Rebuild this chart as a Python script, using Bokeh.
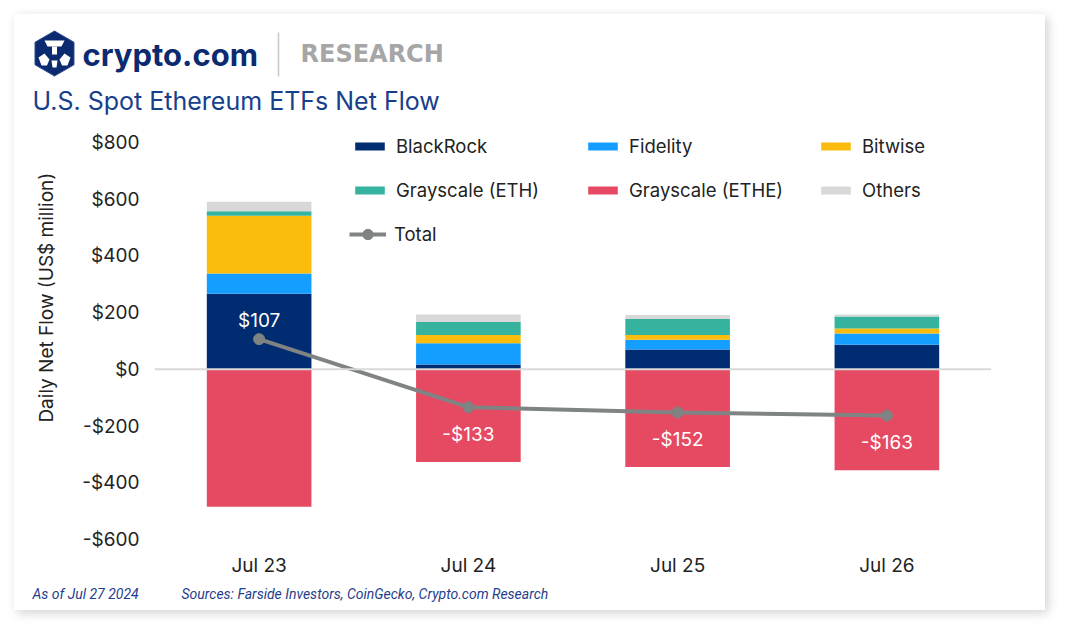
import math
from bokeh.plotting import figure
from bokeh.layouts import column, row
from bokeh.models import (FactorRange, Range1d, FixedTicker, Legend, LegendItem, Label,
                          Span, ColumnDataSource)
from bokeh.core.properties import value
from bokeh.embed import file_html
from bokeh.resources import INLINE

# ---------------- data ----------------
dates = ["Jul 23", "Jul 24", "Jul 25", "Jul 26"]
blackrock = [266.5, 17.4, 70.0, 87.2]
fidelity = [71.3, 74.5, 34.0, 39.0]
bitwise = [204.2, 29.6, 17.0, 18.0]
grayscale_eth = [15.2, 45.9, 57.0, 42.0]
others = [33.5, 26.2, 14.0, 7.0]
grayscale_ethe = [-484.1, -326.9, -344.0, -356.0]
total = [106.6, -133.3, -152.0, -162.8]
total_labels = ["$107", "-$133", "-$152", "-$163"]
y_ticks = [-600, -400, -200, 0, 200, 400, 600, 800]

# ---------------- styles ----------------
C_BLK = "#002D72"
C_FID = "#149EFF"
C_BIT = "#FBBC0E"
C_GETH = "#35B39E"
C_ETHE = "#E64A62"
C_OTH = "#D8D8D8"
C_TOT = "#808383"
NAVY = "#0B2A6F"
FONT = "Inter"
TXT = "#222222"

# page geometry (pixels, page coordinates)
CARD_L, CARD_T, CARD_R, CARD_B = 15, 15, 1046, 611
HEAD_B = 123          # bottom of header strip / top of plot frame
FOOT_T = 580          # top of footer strip
YLAB_R = 70           # right edge of y-label strip
FRAME_L, FRAME_R, FRAME_B = 155, 992, 540
TICK_TOP_Y = 143      # pixel row of the $800 tick
ROOT_ORIGIN = 1       # where the layout root lands on the page (measured)


def base(y, size):
    # empirical correction for where the alphabetic baseline lands
    return y - 0.36 * size


def blank_fig(x0, x1, y0, y1):
    f = figure(width=x1 - x0, height=y1 - y0, x_range=Range1d(x0, x1),
               y_range=Range1d(y1, y0), output_backend="svg", toolbar_location=None,
               min_border=0, x_axis_type=None, y_axis_type=None)
    f.outline_line_color = None
    f.grid.visible = False
    f.background_fill_color = "white"
    f.border_fill_color = "white"
    return f


# ---------------- header ----------------
head = blank_fig(CARD_L, CARD_R, CARD_T, HEAD_B)
cx, cy, r = 55, 54, 22.5
hx = [cx + r * math.cos(math.radians(90 + 60 * k)) for k in range(6)]
hy = [cy - r * math.sin(math.radians(90 + 60 * k)) for k in range(6)]
head.patch(hx, hy, fill_color=NAVY, line_color="#2E4C8C", line_width=1)
emblem = [
    [(45, 41), (65, 41), (62, 47), (48, 47)],
    [(52.5, 47), (57.5, 47), (57.5, 55), (52.5, 55)],
    [(39, 58), (45, 54), (50, 60), (47.5, 66), (42, 66)],
    [(71, 58), (65, 54), (60, 60), (62.5, 66), (68, 66)],
    [(52, 61), (58, 61), (57, 68), (53, 68)],
]
for pts in emblem:
    head.patch([a for a, b in pts], [b for a, b in pts], fill_color="white", line_color=None)
head.add_layout(Label(x=83, y=base(66, 31), text="crypto.com", text_baseline="alphabetic",
                      text_font=FONT, text_font_style="bold", text_font_size="31px",
                      text_color=NAVY))
head.segment(x0=[279], y0=[33], x1=[279], y1=[77], line_color="#C8C8C8", line_width=1.5)
head.add_layout(Label(x=301, y=base(63.5, 24), text="RESEARCH", text_baseline="alphabetic",
                      text_font="DejaVu Sans", text_font_style="bold",
                      text_font_size="24px", text_color="#A6A6A6"))
head.add_layout(Label(x=33, y=base(110, 25), text="U.S. Spot Ethereum ETFs Net Flow",
                      text_baseline="alphabetic", text_font=FONT, text_font_size="25px",
                      text_color="#17408B"))

# ---------------- y label strip ----------------
ylab = blank_fig(CARD_L, YLAB_R, HEAD_B, FOOT_T)
ylab.add_layout(Label(x=47, y=315, text="Daily Net Flow (US$ million)", angle=math.pi / 2,
                      text_align="center", text_baseline="middle", text_font=FONT,
                      text_font_size="19px", text_color=TXT))

# ---------------- main chart ----------------
src = ColumnDataSource(dict(
    date=dates, blackrock=blackrock, fidelity=fidelity, bitwise=bitwise,
    geth=grayscale_eth, others=others, ethe=grayscale_ethe, total=total,
    label=total_labels,
    yoff=[-19 if t > 0 else 27 for t in total],
))

px_per_unit = (FRAME_B - TICK_TOP_Y) / (y_ticks[-1] - y_ticks[0])
y_top = y_ticks[0] + (FRAME_B - HEAD_B) / px_per_unit

p = figure(x_range=FactorRange(*dates), y_range=Range1d(y_ticks[0], y_top),
           width=CARD_R - YLAB_R, height=FOOT_T - HEAD_B, output_backend="svg",
           toolbar_location=None, min_border_left=FRAME_L - YLAB_R,
           min_border_right=CARD_R - FRAME_R, min_border_top=0,
           min_border_bottom=FOOT_T - FRAME_B)
p.outline_line_color = None
p.background_fill_color = "white"
p.border_fill_color = "white"
p.xgrid.visible = False
p.ygrid.visible = False
p.x_range.range_padding = 0

stack_r = p.vbar_stack(["blackrock", "fidelity", "bitwise", "geth", "others"], x="date",
                       width=0.5, color=[C_BLK, C_FID, C_BIT, C_GETH, C_OTH],
                       line_color=None, source=src)
ethe_r = p.vbar(x="date", top=0, bottom="ethe", width=0.5, fill_color=C_ETHE,
                line_color=None, source=src)

p.add_layout(Span(location=0, dimension="width", line_color="#D9D9D9", line_width=2,
                  level="overlay"))

line_r = p.line(x="date", y="total", line_color=C_TOT, line_width=4, source=src)
pt_r = p.scatter(x="date", y="total", size=11, fill_color=C_TOT, line_color=C_TOT,
                 source=src)
p.text(x="date", y="total", text="label", y_offset="yoff", text_align="center",
       text_baseline="middle", text_color="white", text_font_size="19px",
       text_font=value(FONT), source=src)

p.yaxis.ticker = FixedTicker(ticks=y_ticks)
p.yaxis.major_label_overrides = {v: (f"${v}" if v >= 0 else f"-${-v}") for v in y_ticks}
for ax in (p.xaxis[0], p.yaxis[0]):
    ax.axis_line_color = None
    ax.major_tick_line_color = None
    ax.minor_tick_line_color = None
    ax.major_tick_in = 0
    ax.major_tick_out = 0
    ax.major_label_text_font = FONT
    ax.major_label_text_font_size = "19px"
    ax.major_label_text_color = TXT
p.yaxis.major_label_standoff = 15
p.xaxis.major_label_standoff = 14

bar_items = [
    LegendItem(label="BlackRock", renderers=[stack_r[0]]),
    LegendItem(label="Fidelity", renderers=[stack_r[1]]),
    LegendItem(label="Bitwise", renderers=[stack_r[2]]),
    LegendItem(label="Grayscale (ETH)", renderers=[stack_r[3]]),
    LegendItem(label="Grayscale (ETHE)", renderers=[ethe_r]),
    LegendItem(label="Others", renderers=[stack_r[4]]),
]
common = dict(padding=0, margin=0, label_standoff=8, label_text_font=FONT,
              label_text_font_size="18.5px", label_text_color=TXT,
              background_fill_alpha=0, border_line_color=None, glyph_width=37)
legend1 = Legend(items=bar_items, ncols=3, orientation="horizontal",
                 location=(352 - FRAME_L, FRAME_B - 202), spacing=22,
                 glyph_height=10, label_width=166, label_height=20, **common)
legend2 = Legend(items=[LegendItem(label="Total", renderers=[line_r, pt_r])],
                 location=(350 - FRAME_L, FRAME_B - 248), glyph_height=26,
                 label_height=26, **common)
p.add_layout(legend1, "center")
p.add_layout(legend2, "center")

# ---------------- footer ----------------
foot = blank_fig(CARD_L, CARD_R, FOOT_T, CARD_B)
foot.add_layout(Label(x=33, y=base(600, 14), text="As of Jul 27 2024",
                      text_baseline="alphabetic", text_font="Roboto",
                      text_font_style="italic", text_font_size="14px",
                      text_color="#1F3E8C"))
foot.add_layout(Label(x=182, y=base(600, 14),
                      text="Sources: Farside Investors, CoinGecko, Crypto.com Research",
                      text_baseline="alphabetic", text_font="Roboto",
                      text_font_style="italic", text_font_size="14px",
                      text_color="#1F3E8C"))

card = column(head, row(ylab, p, spacing=0), foot, spacing=0)
card.styles = {"box-shadow": "3px 3px 10px rgba(0,0,0,0.18)", "background-color": "white",
               "transform": f"translate({CARD_L - ROOT_ORIGIN}px, {CARD_T - ROOT_ORIGIN}px)"}

open("out.html", "w").write(file_html(card, INLINE))
